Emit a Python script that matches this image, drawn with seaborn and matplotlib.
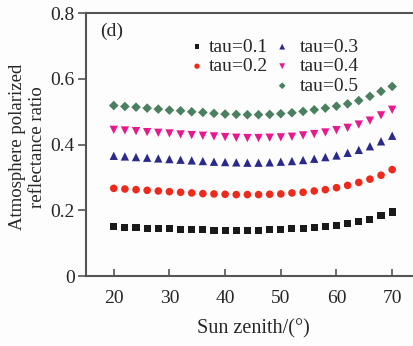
import numpy as np
import pandas as pd
import matplotlib
matplotlib.use("Agg")
import matplotlib.pyplot as plt
import seaborn as sns

# sun zenith angles (deg)
zenith = list(range(20, 71, 2))

tau_01 = [0.150, 0.148, 0.147, 0.146, 0.145, 0.144, 0.143, 0.142, 0.141, 0.140,
          0.140, 0.140, 0.140, 0.140, 0.141, 0.142, 0.144, 0.146, 0.148, 0.151,
          0.155, 0.160, 0.166, 0.173, 0.183, 0.195]
tau_02 = [0.267, 0.265, 0.263, 0.261, 0.259, 0.257, 0.255, 0.253, 0.251, 0.250,
          0.249, 0.248, 0.248, 0.248, 0.249, 0.250, 0.253, 0.255, 0.259, 0.263,
          0.269, 0.276, 0.285, 0.295, 0.307, 0.324]
tau_03 = [0.366, 0.364, 0.362, 0.360, 0.358, 0.356, 0.354, 0.352, 0.350, 0.348,
          0.347, 0.346, 0.345, 0.345, 0.346, 0.348, 0.350, 0.353, 0.357, 0.362,
          0.367, 0.375, 0.384, 0.395, 0.410, 0.427]
tau_04 = [0.445, 0.443, 0.441, 0.438, 0.436, 0.434, 0.431, 0.429, 0.427, 0.425,
          0.423, 0.421, 0.420, 0.420, 0.421, 0.422, 0.424, 0.428, 0.432, 0.437,
          0.444, 0.451, 0.461, 0.473, 0.489, 0.506]
tau_05 = [0.519, 0.516, 0.514, 0.511, 0.508, 0.505, 0.503, 0.500, 0.498, 0.495,
          0.493, 0.492, 0.491, 0.491, 0.492, 0.494, 0.497, 0.501, 0.506, 0.511,
          0.517, 0.524, 0.534, 0.547, 0.562, 0.577]

labels = ["tau=0.1", "tau=0.2", "tau=0.3", "tau=0.4", "tau=0.5"]
series = [tau_01, tau_02, tau_03, tau_04, tau_05]
colors = ["#1a1a1a", "#ee2a1c", "#2b2a8c", "#e8198f", "#4a7f5f"]
markers = ["s", "o", "^", "v", "D"]
sizes = [26, 30, 36, 36, 24]

df = pd.concat([pd.DataFrame({"zenith": zenith, "ratio": s, "tau": lab})
                for s, lab in zip(series, labels)], ignore_index=True)

sns.set_theme(style="white")
plt.rcParams["font.family"] = ["Liberation Serif", "DejaVu Serif"]

fig = plt.figure(figsize=(4.13, 3.46), dpi=100, facecolor="#fdfdfd")
ax = fig.add_axes([0.208, 0.202, 0.809, 0.760])
ax.set_facecolor("#fdfdfd")

for lab, col, mk, sz in zip(labels, colors, markers, sizes):
    sub = df[df["tau"] == lab]
    sns.scatterplot(data=sub, x="zenith", y="ratio", color=col, marker=mk,
                    s=sz, edgecolor="none", label=lab, ax=ax)

ax.set_xlim(15, 75)
ax.set_ylim(0, 0.8)
ax.set_xticks([20, 30, 40, 50, 60, 70])
ax.set_yticks([0, 0.2, 0.4, 0.6, 0.8])
ax.set_yticklabels(["0", "0.2", "0.4", "0.6", "0.8"])
ax.tick_params(axis="x", direction="in", length=5, width=1.2, color="#555555",
               labelsize=14, pad=10, bottom=True)
ax.tick_params(axis="y", direction="out", length=6, width=1.2, color="#555555",
               labelsize=14, pad=2, left=True)
for side in ["left", "bottom", "top"]:
    ax.spines[side].set_color("#555555")
    ax.spines[side].set_linewidth(1.5)
ax.spines["right"].set_visible(False)

ax.set_xlabel("Sun zenith/(°)", fontsize=14.5, labelpad=9)
ax.set_ylabel("Atmosphere polarized\nreflectance ratio", fontsize=13.5,
              linespacing=1.25)
ax.yaxis.set_label_coords(-0.12, 0.49)

ax.text(0.042, 0.93, "(d)", transform=ax.transAxes, fontsize=14,
        ha="left", va="center")

handles, hlabels = ax.get_legend_handles_labels()
ax.get_legend().remove()
leg1 = ax.legend(handles[:2], hlabels[:2], loc="upper left",
                 bbox_to_anchor=(0.315, 0.905), frameon=False, fontsize=14,
                 handlelength=0.6, handletextpad=0.3, labelspacing=0.1,
                 borderpad=0, borderaxespad=0, markerscale=0.7)
ax.add_artist(leg1)
ax.legend(handles[2:], hlabels[2:], loc="upper left",
          bbox_to_anchor=(0.57, 0.905), frameon=False, fontsize=14,
          handlelength=0.6, handletextpad=0.6, labelspacing=0.1,
          borderpad=0, borderaxespad=0, markerscale=0.7)

fig.savefig("out.png", dpi=100, facecolor=fig.get_facecolor())
